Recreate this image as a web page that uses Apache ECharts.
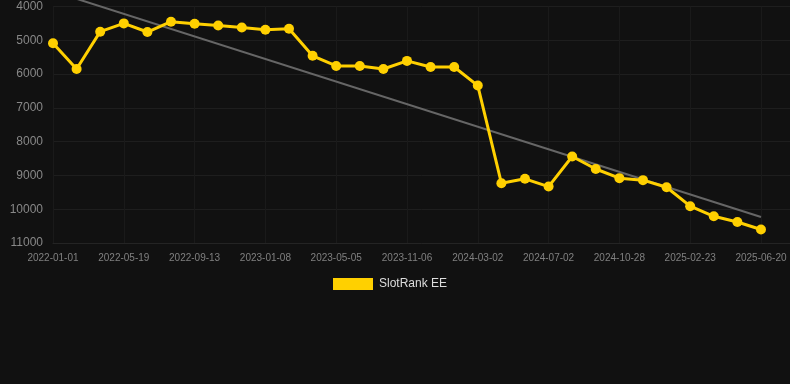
<!DOCTYPE html>
<html>
<head>
<meta charset="utf-8">
<script src="https://cdn.jsdelivr.net/npm/echarts@6/dist/echarts.min.js"></script>
<style>
html,body{margin:0;padding:0;background:#111111;}
#c{width:790px;height:384px;}
</style>
</head>
<body>
<div id="c"></div>
<script>
var categories = [
  '2022-01-01','2022-02-16','2022-04-03','2022-05-19','2022-06-27','2022-08-05',
  '2022-09-13','2022-10-22','2022-11-30','2023-01-08','2023-02-16','2023-03-27',
  '2023-05-05','2023-06-25','2023-08-16','2023-11-06','2023-12-15','2024-01-23',
  '2024-03-02','2024-04-12','2024-05-22','2024-07-02','2024-08-10','2024-09-19',
  '2024-10-28','2024-12-06','2025-01-14','2025-02-23','2025-04-01','2025-05-10',
  '2025-06-20'
];
var rankValues = [
  5090, 5850, 4745, 4500, 4755, 4450, 4510, 4560, 4620, 4690, 4660,
  5460, 5760, 5760, 5850, 5610, 5790, 5790, 6340,
  9230, 9100, 9330, 8440, 8810, 9080, 9140, 9350, 9910, 10210, 10380, 10600
];
var trendValues = [3550, 10230];
var yTicks = [4000, 11000, 1000];
var seriesName = 'SlotRank EE';

var rankData = rankValues.map(function (v, i) { return [i, v]; });
var trendData = [[0, trendValues[0]], [categories.length - 1, trendValues[1]]];

var chart = echarts.init(document.getElementById('c'), null, {renderer: 'canvas'});
chart.setOption({
  backgroundColor: '#111111',
  animation: false,
  grid: {left: 53, right: 0, top: 6.5, bottom: 141, containLabel: false},
  legend: {
    data: [seriesName],
    left: 333,
    top: 278,
    padding: 0,
    itemWidth: 40,
    itemHeight: 12,
    itemGap: 10,
    textStyle: {color: '#dddddd', fontSize: 12, fontFamily: 'Liberation Sans, Arial, sans-serif', padding: [0, 0, 0, 1]},
    icon: 'rect'
  },
  xAxis: {
    type: 'value',
    min: 0,
    max: 31.23,
    interval: 3,
    axisLine: {show: true, lineStyle: {color: '#242424'}},
    axisTick: {show: false},
    splitLine: {show: true, lineStyle: {color: '#1a1a1a', width: 1}},
    axisLabel: {
      color: '#808080',
      fontSize: 10,
      margin: 10,
      showMaxLabel: false,
      fontFamily: 'Liberation Sans, Arial, sans-serif',
      formatter: function (v) { return categories[Math.round(v)] || ''; }
    }
  },
  yAxis: {
    type: 'value',
    inverse: true,
    min: yTicks[0],
    max: yTicks[1],
    interval: yTicks[2],
    axisLine: {show: false},
    axisTick: {show: false},
    splitLine: {show: true, lineStyle: {color: '#1e1e1e', width: 1}},
    axisLabel: {
      color: '#888888', fontSize: 12, margin: 10,
      fontFamily: 'Liberation Sans, Arial, sans-serif',
      formatter: function (v) { return String(v); }
    }
  },
  series: [
    {
      name: 'trend',
      type: 'line',
      data: trendData,
      clip: false,
      symbol: 'none',
      silent: true,
      lineStyle: {color: '#666666', width: 2},
      z: 1
    },
    {
      name: seriesName,
      type: 'line',
      data: rankData,
      symbol: 'circle',
      symbolSize: 10,
      itemStyle: {color: '#ffd000'},
      lineStyle: {color: '#ffd000', width: 3},
      z: 2
    }
  ]
});
</script>
</body>
</html>
